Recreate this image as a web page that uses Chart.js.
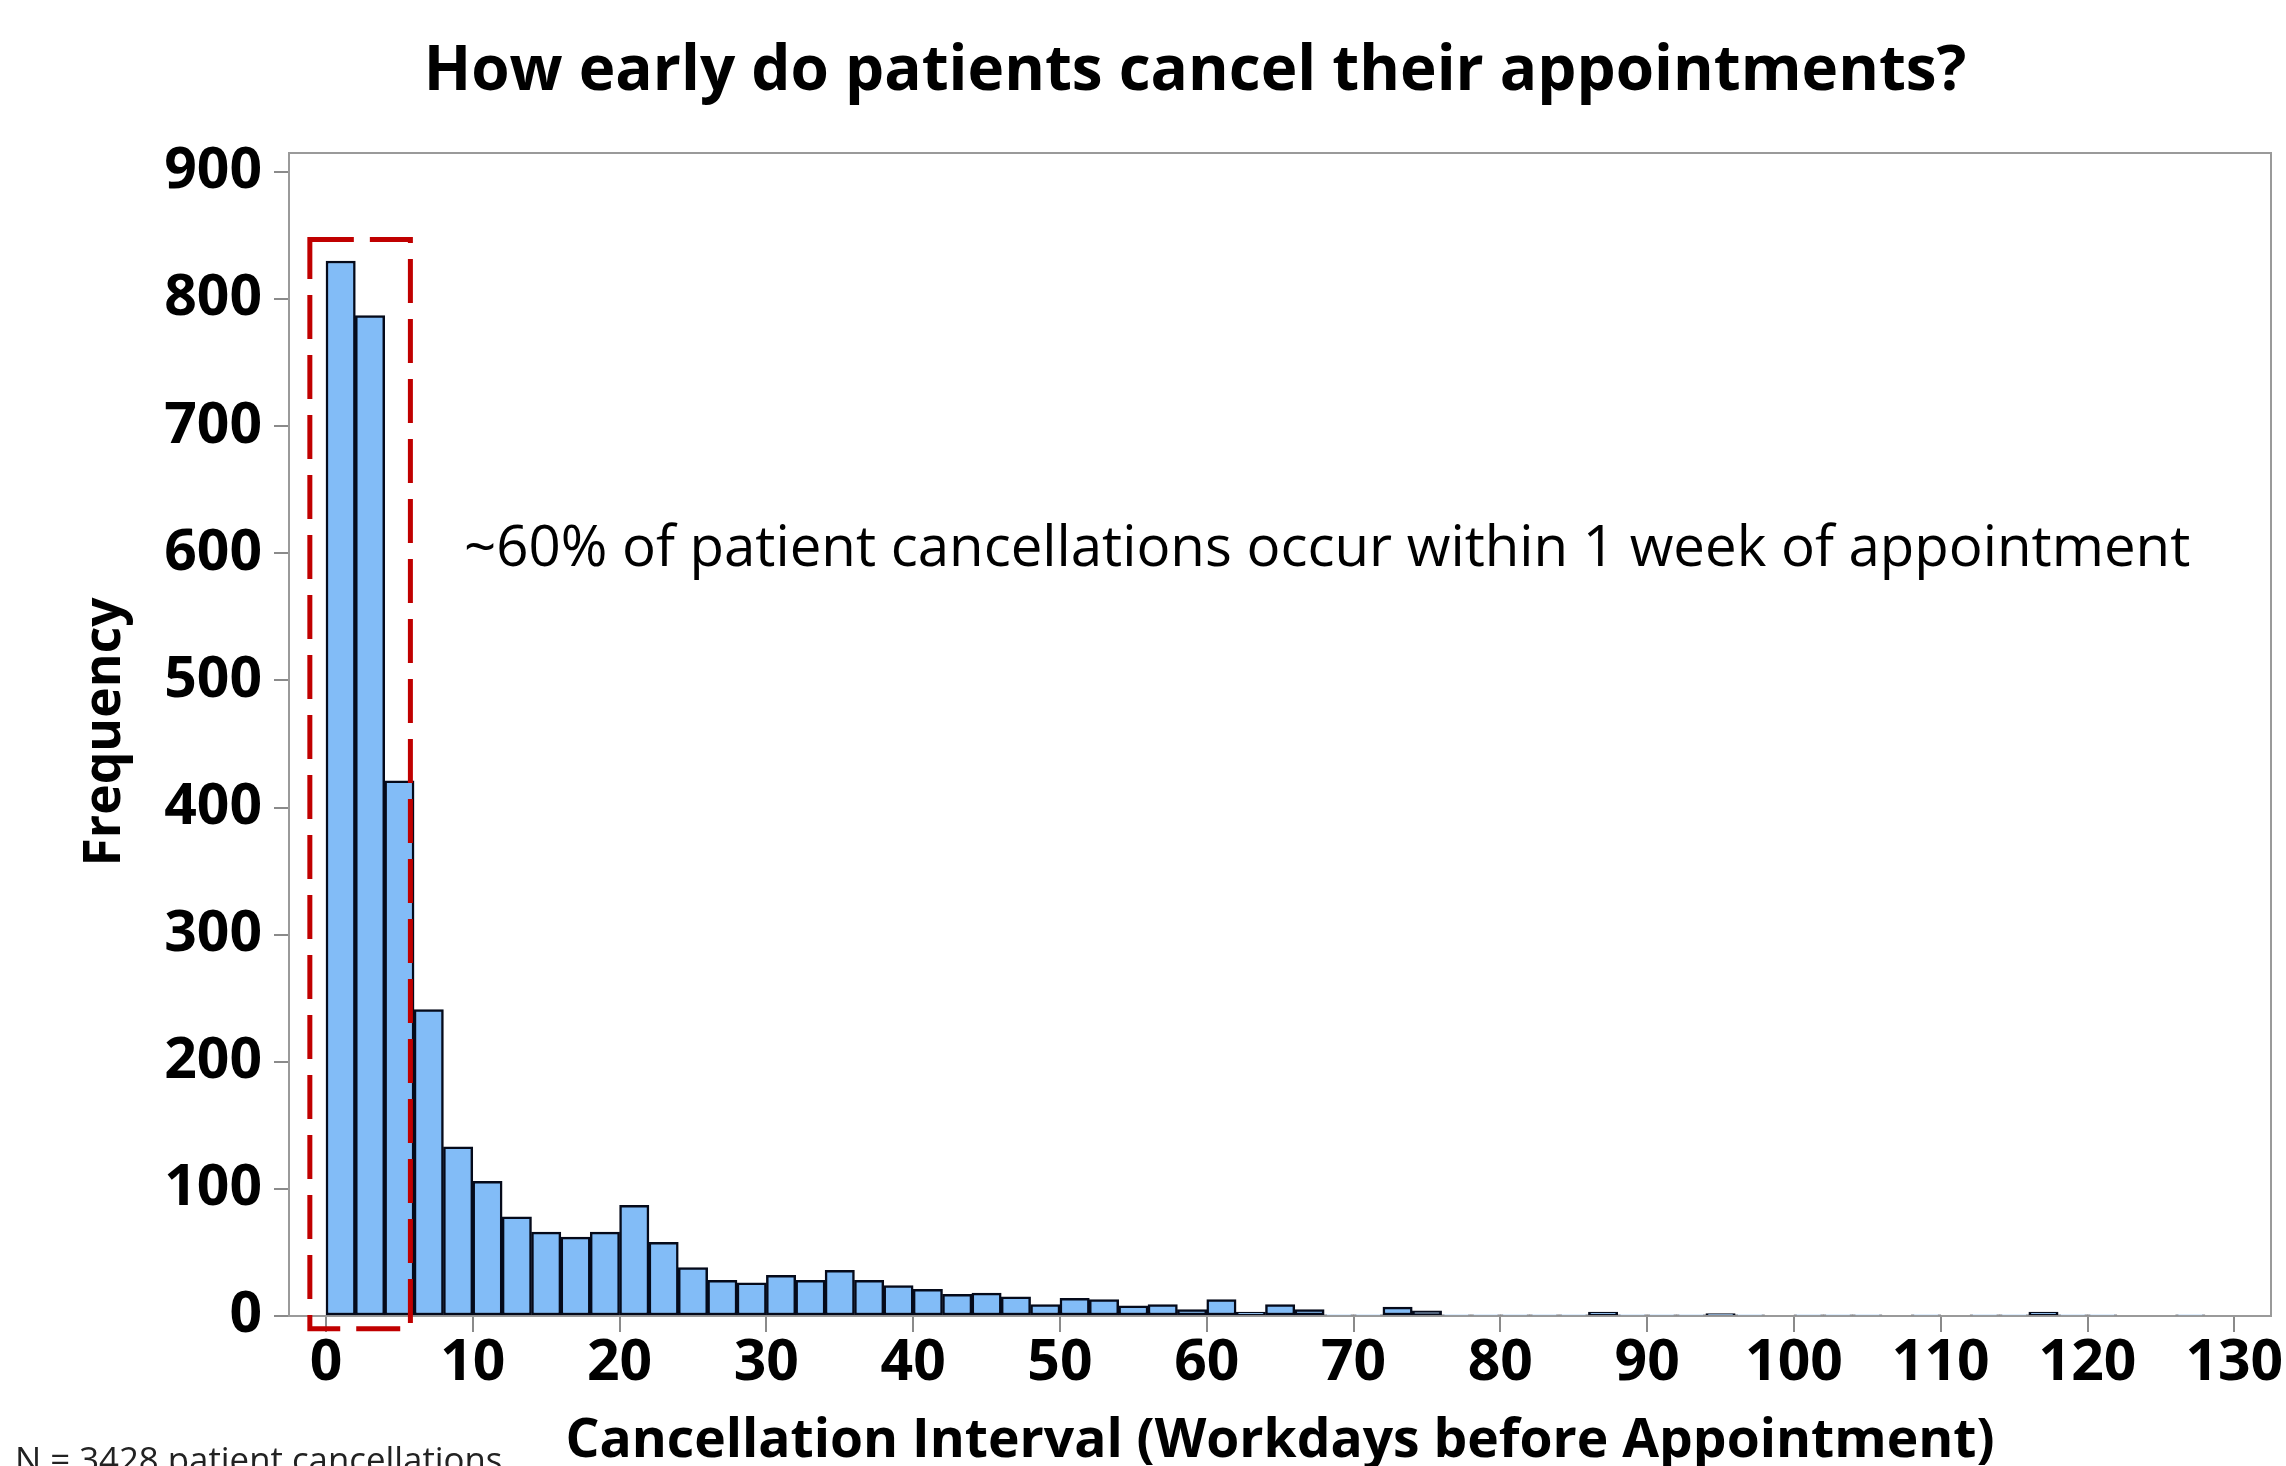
<!DOCTYPE html>
<html>
<head>
<meta charset="utf-8">
<title>Cancellation interval histogram</title>
<script src="https://cdn.jsdelivr.net/npm/chart.js@4/dist/chart.umd.min.js"></script>
<style>
  html, body { margin: 0; padding: 0; background: #fff; }
  canvas { display: block; }
</style>
</head>
<body>
<canvas id="histogram" width="2286" height="1466"></canvas>
<script>
// Histogram data: counts per 2-workday bin, starting at 0
const binWidth = 2;
const binStart = 0;
const counts = [
  830, 787, 421, 241, 133, 106, 78, 66, 62, 66,
  87, 58, 38, 28, 26, 32, 28, 36, 28, 24,
  21, 17, 18, 15, 9, 14, 13, 8, 9, 5,
  13, 3, 9, 5, 1, 1, 7, 4, 1, 1,
  1, 1, 1, 3, 1, 1, 1, 2, 1, 0,
  1, 1, 1, 0, 1, 0, 1, 1, 3, 1,
  1, 0, 0, 1
];
const xTicks = [0, 10, 20, 30, 40, 50, 60, 70, 80, 90, 100, 110, 120, 130];
const yTicks = [0, 100, 200, 300, 400, 500, 600, 700, 800, 900];

// Texts
const titleText = 'How early do patients cancel their appointments?';
const xTitle = 'Cancellation Interval (Workdays before Appointment)';
const yTitle = 'Frequency';
const noteText = '~60% of patient cancellations occur within 1 week of appointment';
const nText = 'N = 3428 patient cancellations';

// Highlight box around the first week (data units)
const boxX = [-1.1, 5.75];
const boxY = [-10, 847];

const FONT = '"Open Sans", "DejaVu Sans", sans-serif';

// font size that makes text fill a given width
function fitSize(ctx, text, weight, width) {
  ctx.font = weight + ' 100px ' + FONT;
  return 100 * width / ctx.measureText(text).width;
}

function drawText(ctx, text, weight, width, x, y, align) {
  const size = fitSize(ctx, text, weight, width);
  ctx.font = weight + ' ' + size.toFixed(1) + 'px ' + FONT;
  ctx.textAlign = align;
  ctx.textBaseline = 'alphabetic';
  ctx.fillText(text, x, y);
}

const framePlugin = {
  id: 'frame',
  beforeDatasetsDraw(chart) {
    const { ctx, chartArea: a } = chart;
    ctx.save();
    ctx.strokeStyle = '#9a9a9a';
    ctx.lineWidth = 2;
    ctx.strokeRect(a.left, a.top, a.right - a.left, a.bottom - a.top);
    ctx.restore();
  },
  afterDatasetsDraw(chart) {
    const { ctx } = chart;
    const xs = chart.scales.x, ys = chart.scales.y;
    // dashed red box
    ctx.save();
    ctx.strokeStyle = '#c00000';
    ctx.lineWidth = 5;
    ctx.setLineDash([44, 16]);
    const x0 = xs.getPixelForValue(boxX[0]), x1 = xs.getPixelForValue(boxX[1]);
    const y0 = ys.getPixelForValue(boxY[1]), y1 = ys.getPixelForValue(boxY[0]);
    ctx.strokeRect(x0, y0, x1 - x0, y1 - y0);
    ctx.restore();
  },
  afterDraw(chart) {
    const { ctx } = chart;
    ctx.save();
    ctx.fillStyle = '#000';
    drawText(ctx, titleText, 'bold', 1543, 1195, 90, 'center');
    drawText(ctx, xTitle, 'bold', 1429, 1280, 1457, 'center');
    drawText(ctx, noteText, 'normal', 1727, 464, 566, 'left');
    ctx.fillStyle = '#222';
    drawText(ctx, nText, 'normal', 488, 15, 1472, 'left');
    // rotated y title
    ctx.fillStyle = '#000';
    ctx.translate(120, 732);
    ctx.rotate(-Math.PI / 2);
    drawText(ctx, yTitle, 'bold', 269, 0, 0, 'center');
    ctx.restore();
  }
};

function createHistogram() {
  const data = counts.map((c, i) => ({ x: binStart + binWidth * i + binWidth / 2, y: c }));
  const tickFont = { family: FONT, weight: 'bold', size: 57 };

  new Chart(document.getElementById('histogram'), {
    type: 'bar',
    data: {
      datasets: [{
        data: data,
        backgroundColor: '#82bcf7',
        borderColor: '#050a1a',
        borderWidth: 2.5,
        borderSkipped: false,
        barPercentage: 1,
        categoryPercentage: 1
      }]
    },
    options: {
      responsive: false,
      animation: false,
      devicePixelRatio: 1,
      layout: { padding: { top: 153, right: 15, left: 0, bottom: 0 } },
      plugins: {
        legend: { display: false },
        title: { display: false },
        tooltip: { enabled: false }
      },
      scales: {
        x: {
          type: 'linear',
          min: -2.52,
          max: 132.5,
          offset: false,
          grid: { offset: false, drawOnChartArea: false, drawTicks: true, tickLength: 16, color: '#8a8a8a', lineWidth: 2 },
          border: { display: false },
          ticks: { font: tickFont, color: '#000', padding: -2, maxRotation: 0, autoSkip: false },
          afterBuildTicks: s => { s.ticks = xTicks.map(v => ({ value: v })); },
          afterFit: s => { s.height = 150; }
        },
        y: {
          min: 0,
          max: 915,
          grid: { drawOnChartArea: false, drawTicks: true, tickLength: 15, color: '#8a8a8a', lineWidth: 2 },
          border: { display: false },
          ticks: { font: tickFont, color: '#000', padding: 12 },
          afterBuildTicks: s => { s.ticks = yTicks.map(v => ({ value: v })); },
          afterFit: s => { s.width = 289; }
        }
      }
    },
    plugins: [framePlugin]
  });
}

createHistogram();
</script>
</body>
</html>
